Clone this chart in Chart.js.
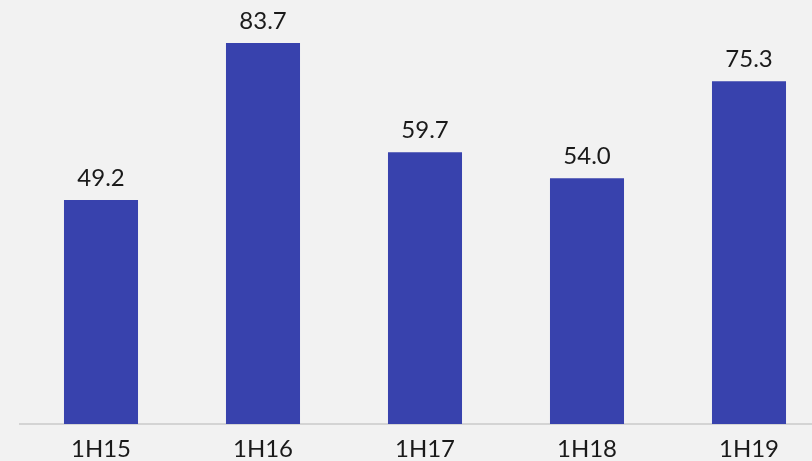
<!DOCTYPE html>
<html><head><meta charset="utf-8">
<script src="https://cdn.jsdelivr.net/npm/chart.js@4"></script>
<style>
html,body{margin:0;padding:0;background:#f2f2f2;overflow:hidden;}
#wrap{width:830px;height:461px;position:relative;}
</style></head>
<body><div id="wrap"><canvas id="c"></canvas></div>
<script>
const categories = ['1H15','1H16','1H17','1H18','1H19'];
const values = [49.2, 83.7, 59.7, 54.0, 75.3];
const valueLabels = ['49.2','83.7','59.7','54.0','75.3'];

const FONT = 'Lato, "Noto Sans", sans-serif';
const valuePlugin = {
  id:'vals',
  afterDatasetsDraw(chart){
    const ctx = chart.ctx;
    const meta = chart.getDatasetMeta(0);
    ctx.save();
    ctx.font = '24px ' + FONT;
    ctx.fillStyle = '#1a1a1a';
    ctx.textAlign = 'center';
    ctx.textBaseline = 'alphabetic';
    meta.data.forEach((bar,i)=>{
      ctx.fillText(valueLabels[i], bar.x, bar.y - 14);
    });
    ctx.restore();
  }
};

new Chart(document.getElementById('c'), {
  type:'bar',
  data:{labels:categories, datasets:[{data:values, backgroundColor:'#3842ad', borderWidth:0, barPercentage:0.457, categoryPercentage:1}]},
  options:{
    responsive:true, maintainAspectRatio:false, animation:false,
    layout:{padding:{left:20,right:0,top:0,bottom:0}},
    plugins:{legend:{display:false}, tooltip:{enabled:false}},
    scales:{
      x:{
        grid:{display:false, drawTicks:false},
        border:{display:true, color:'#d4d4d4', width:2},
        ticks:{color:'#1a1a1a', font:{family:FONT, size:24}, padding:11},
        afterFit(s){ s.height = 37; }
      },
      y:{display:false, min:0, max:93.15}
    }
  },
  plugins:[valuePlugin]
});
</script></body></html>
